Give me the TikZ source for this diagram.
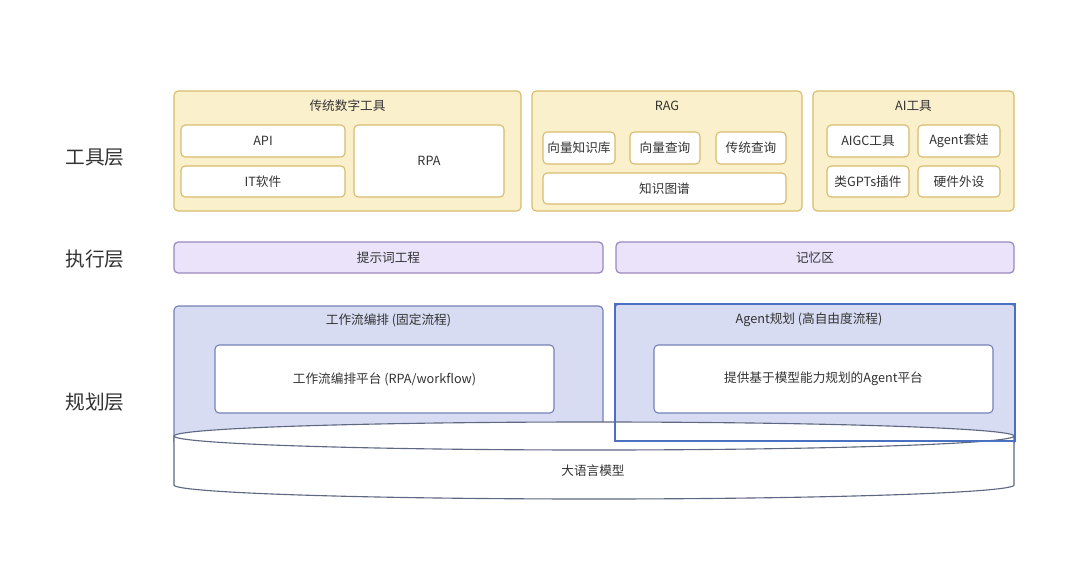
\documentclass[tikz,border=0pt]{standalone}
\usepackage{fontspec}
\setmainfont{Noto Sans CJK SC}
\usetikzlibrary{calc}
\usepackage{xcolor}

\definecolor{toolfill}{HTML}{FBF0CC}
\definecolor{tooldraw}{HTML}{D8BC6C}
\definecolor{execfill}{HTML}{EAE3FA}
\definecolor{execdraw}{HTML}{9A8ABF}
\definecolor{planfill}{HTML}{D7DCF2}
\definecolor{plandraw}{HTML}{7480B6}
\definecolor{selblue}{HTML}{4A70C2}
\definecolor{llmdraw}{HTML}{5E6882}
\definecolor{txt}{HTML}{333333}

\tikzset{
  toolbox/.style={fill=toolfill, draw=tooldraw, line width=0.8pt, rounded corners=3pt},
  toolitem/.style={fill=white, draw=tooldraw, line width=0.8pt, rounded corners=3pt},
  execbox/.style={fill=execfill, draw=execdraw, line width=0.9pt, rounded corners=3pt},
  planbox/.style={fill=planfill, draw=plandraw, line width=0.8pt, rounded corners=3pt},
  planitem/.style={fill=white, draw=plandraw, line width=0.8pt, rounded corners=3pt},
  lbl/.style={font=\fontsize{9}{11}\selectfont, text=txt},
  layer/.style={font=\fontsize{14}{16}\selectfont, text=txt}
}

\begin{document}
\begin{tikzpicture}[x=0.025cm, y=-0.025cm]
  \useasboundingbox[fill=white] (0,0) rectangle (1080,567);

  %% Layer labels
  \node[layer] (toollayer) at (95,158) {工具层};
  \node[layer] (execlayer) at (95,259) {执行层};
  \node[layer] (planlayer) at (95,402) {规划层};

  %% Tool layer: traditional digital tools
  \draw[toolbox] (174,91) rectangle (521,211);
  \node[lbl] (tradtitle) at (347.5,106) {传统数字工具};
  \draw[toolitem] (181,125) rectangle (345,157);
  \node[lbl] (api) at (263,141) {API};
  \draw[toolitem] (181,166) rectangle (345,197);
  \node[lbl] (itsoft) at (263,181.5) {IT软件};
  \draw[toolitem] (354,125) rectangle (504,197);
  \node[lbl] (rpa) at (429,161) {RPA};

  %% Tool layer: RAG
  \draw[toolbox] (532,91) rectangle (802,211);
  \node[lbl] (ragtitle) at (667,106) {RAG};
  \draw[toolitem] (543,132) rectangle (615,164);
  \node[lbl] (veclib) at (579,148) {向量知识库};
  \draw[toolitem] (630,132) rectangle (700,164);
  \node[lbl] (vecquery) at (665,148) {向量查询};
  \draw[toolitem] (716,132) rectangle (786,164);
  \node[lbl] (tradquery) at (751,148) {传统查询};
  \draw[toolitem] (543,173) rectangle (786,204);
  \node[lbl] (kgraph) at (664.5,188.5) {知识图谱};

  %% Tool layer: AI tools
  \draw[toolbox] (813,91) rectangle (1014,211);
  \node[lbl] (aititle) at (913.5,106) {AI工具};
  \draw[toolitem] (827,125) rectangle (909,157);
  \node[lbl] (aigc) at (868,141) {AIGC工具};
  \draw[toolitem] (918,125) rectangle (1000,157);
  \node[lbl] (agentnest) at (959,141) {Agent套娃};
  \draw[toolitem] (827,166) rectangle (909,197);
  \node[lbl] (gpts) at (868,181.5) {类GPTs插件};
  \draw[toolitem] (918,166) rectangle (1000,197);
  \node[lbl] (hardware) at (959,181.5) {硬件外设};

  %% Execution layer
  \draw[execbox] (174,242) rectangle (603,273);
  \node[lbl] (prompt) at (388.5,257.5) {提示词工程};
  \draw[execbox] (616,242) rectangle (1014,273);
  \node[lbl] (memory) at (815,257.5) {记忆区};

  %% Planning layer
  \draw[planbox] (174,306) rectangle (603,445);
  \node[lbl] (flowtitle) at (388.5,320) {工作流编排 (固定流程)};
  \draw[planitem] (215,345) rectangle (554,413);
  \node[lbl] (flowplat) at (384.5,379) {工作流编排平台 (RPA/workflow)};
  \draw[planbox] (615,304) rectangle (1015,445);
  \node[lbl] (agenttitle) at (809,320) {Agent规划 (高自由度流程)};
  \draw[planitem] (654,345) rectangle (993,413);
  \node[lbl] (agentplat) at (823.5,379) {提供基于模型能力规划的Agent平台};

  %% LLM cylinder
  \fill[white] (174,436) rectangle (1014,485);
  \fill[white] (594,485) ellipse [x radius=420, y radius=14];
  \draw[llmdraw, line width=0.8pt] (174,436) -- (174,485)
    arc[start angle=180, end angle=0, x radius=420, y radius=14] -- (1014,436);
  \draw[llmdraw, fill=white, line width=0.8pt] (594,436) ellipse [x radius=420, y radius=14];
  \node[lbl] (llm) at (593,471) {大语言模型};

  %% Selection frame
  \draw[selblue, line width=2pt] (615,304) rectangle (1015,441);
\end{tikzpicture}
\end{document}
